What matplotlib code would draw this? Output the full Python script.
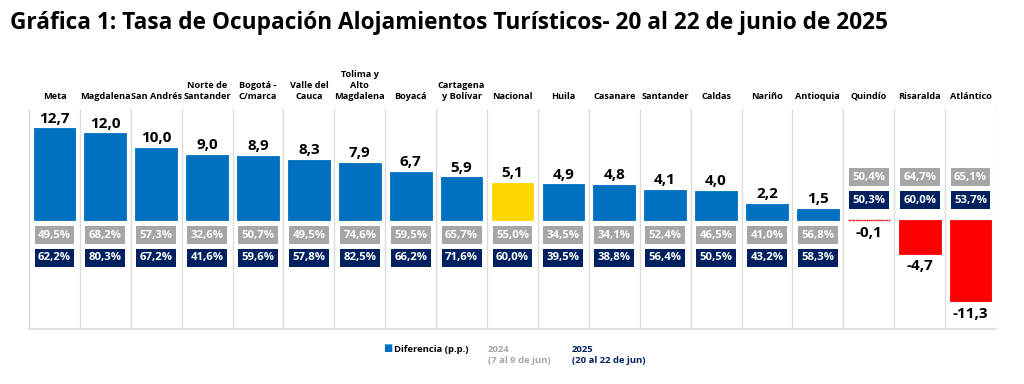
import matplotlib
matplotlib.use('Agg')
import matplotlib.pyplot as plt
from matplotlib.transforms import blended_transform_factory
import numpy as np

plt.rcParams['font.family'] = ['Open Sans', 'DejaVu Sans']

# data
categories = ["Meta", "Magdalena", "San Andrés", "Norte de\nSantander", "Bogotá -\nC/marca",
              "Valle del\nCauca", "Tolima y\nAlto\nMagdalena", "Boyacá", "Cartagena\ny Bolívar",
              "Nacional", "Huila", "Casanare", "Santander", "Caldas", "Nariño", "Antioquia",
              "Quindío", "Risaralda", "Atlántico"]
diferencia = [12.7, 12.0, 10.0, 9.0, 8.9, 8.3, 7.9, 6.7, 5.9, 5.1, 4.9, 4.8, 4.1, 4.0, 2.2, 1.5,
              -0.1, -4.7, -11.3]
ocup_2024 = [49.5, 68.2, 57.3, 32.6, 50.7, 49.5, 74.6, 59.5, 65.7, 55.0, 34.5, 34.1, 52.4, 46.5,
             41.0, 56.8, 50.4, 64.7, 65.1]
ocup_2025 = [62.2, 80.3, 67.2, 41.6, 59.6, 57.8, 82.5, 66.2, 71.6, 60.0, 39.5, 38.8, 56.4, 50.5,
             43.2, 58.3, 50.3, 60.0, 53.7]

BLUE = '#0070C0'
YELLOW = '#FFD700'
RED = '#FF0000'
GRAY = '#A6A6A6'
NAVY = '#002060'
LINE = '#dcdcdc'


def fmt(v, pct=False):
    s = f'{v:.1f}'.replace('.', ',')
    return s + '%' if pct else s


fig = plt.figure(figsize=(10.24, 3.84), dpi=100)
W, H = 1024, 384
ax = fig.add_axes([29 / W, 1 - 329 / H, 967 / W, 220 / H])

x = np.arange(len(categories))
colors = []
for c, v in zip(categories, diferencia):
    if c == 'Nacional':
        colors.append(YELLOW)
    elif v < 0:
        colors.append(RED)
    else:
        colors.append(BLUE)

bars = ax.bar(x, diferencia, width=0.82, color=colors, edgecolor=colors, linewidth=0.6)
# tiny bars show up as a dotted line in the original
for p in bars:
    if abs(p.get_height()) < 0.5:
        p.set_linestyle(':')
        p.set_linewidth(1.0)

ax.set_xlim(-0.5, len(categories) - 0.5)
ax.set_ylim(-15.2, 15.4)
for s in ax.spines.values():
    s.set_visible(False)
ax.spines['bottom'].set_visible(True)
ax.spines['bottom'].set_color(LINE)
ax.spines['bottom'].set_linewidth(1.2)
ax.set_xticks([])
ax.set_yticks([])

# column separators
for b in np.arange(-0.5, len(categories) + 0.5, 1):
    ax.axvline(b, color=LINE, lw=1.0, zorder=0)

tr = blended_transform_factory(ax.transData, ax.transAxes)
for i, c in enumerate(categories):
    ax.text(i, 1.038, c, transform=tr, ha='center', va='bottom', fontsize=6.6,
            fontweight='bold', linespacing=1.25)

for i, v in enumerate(diferencia):
    if v >= 0:
        ax.annotate(fmt(v), (i, v), xytext=(0, 2), textcoords='offset points',
                    ha='center', va='bottom', fontsize=11, fontweight='bold')
        y24, y25 = -2.15, -5.3
    else:
        ax.annotate(fmt(v), (i, v), xytext=(0, -4), textcoords='offset points',
                    ha='center', va='top', fontsize=11, fontweight='bold')
        y24, y25 = 5.9, 2.7
    ax.text(i, y24, fmt(ocup_2024[i], True), ha='center', va='center', fontsize=8.2,
            fontweight='bold', color='white',
            bbox=dict(boxstyle='square,pad=0.3', fc=GRAY, ec='none'))
    ax.text(i, y25, fmt(ocup_2025[i], True), ha='center', va='center', fontsize=8.2,
            fontweight='bold', color='white',
            bbox=dict(boxstyle='square,pad=0.3', fc=NAVY, ec='none'))

fig.text(10 / W, 1 - 23 / H,
         'Gráfica 1: Tasa de Ocupación Alojamientos Turísticos- 20 al 22 de junio de 2025',
         ha='left', va='center', fontsize=16.3, fontweight='bold')

# legend
fig.text(383 / W, 1 - 349 / H, '■', color=BLUE, fontsize=7, ha='left', va='center')
fig.text(394 / W, 1 - 349 / H, 'Diferencia (p.p.)', fontsize=6.8, fontweight='bold',
         ha='left', va='center')
fig.text(488 / W, 1 - 355 / H, '2024\n(7 al 9 de jun)', fontsize=6.8, fontweight='bold',
         color=GRAY, ha='left', va='center', linespacing=1.4)
fig.text(572 / W, 1 - 355 / H, '2025\n(20 al 22 de jun)', fontsize=6.8, fontweight='bold',
         color=NAVY, ha='left', va='center', linespacing=1.4)

fig.savefig('out.png', dpi=100)
